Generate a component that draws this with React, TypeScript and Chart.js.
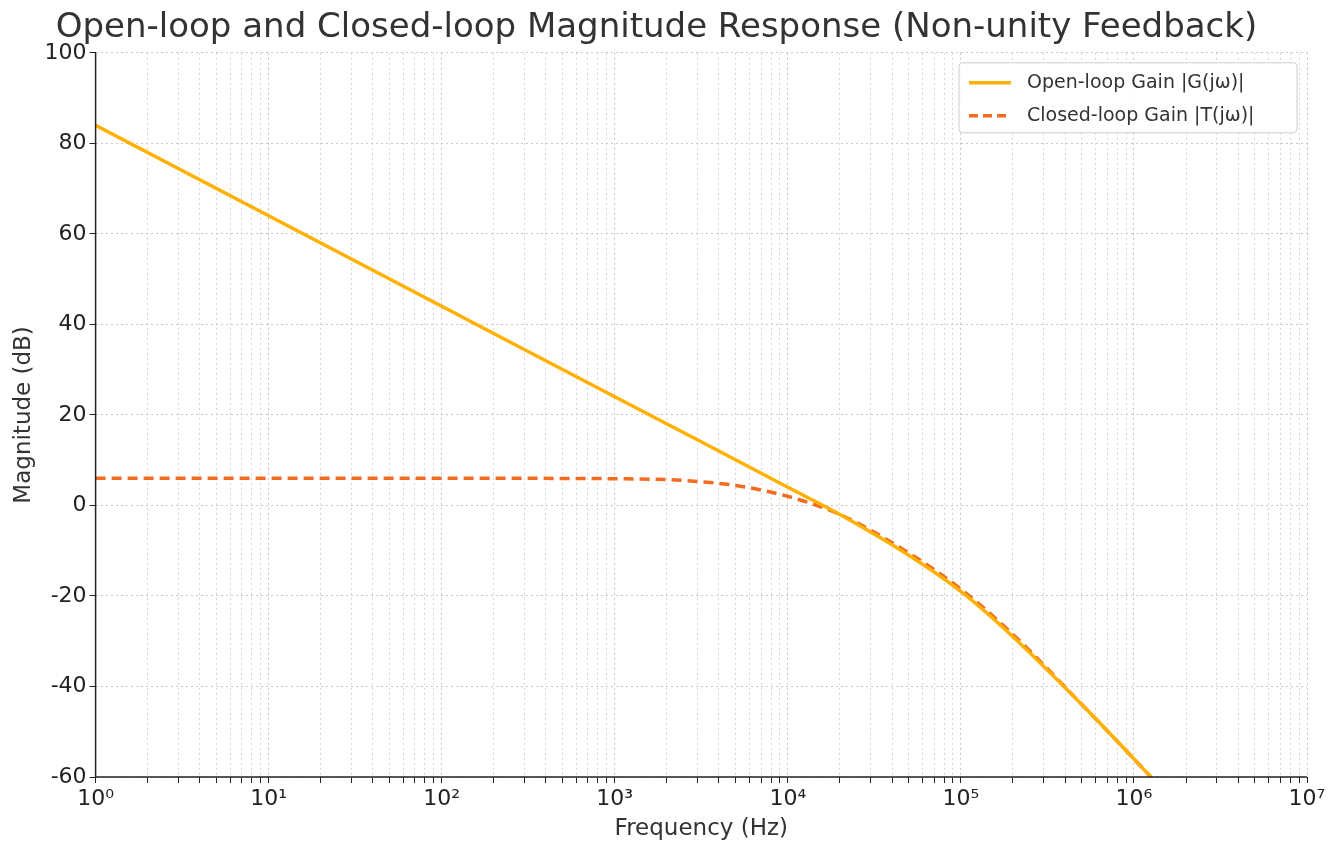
import React, { useEffect, useRef } from "react";
import { Chart, registerables } from "chart.js";
Chart.register(...registerables);

const freqOpen = [1, 10, 100, 1000, 3000, 10000, 20000, 50000, 100000, 200000, 500000, 1000000, 1400000];
const gainOpen = [84, 64, 44, 24, 14.5, 4, -2, -11, -19, -29, -44, -56, -62];
const freqClosed = [1, 10, 100, 1000, 2000, 3000, 5000, 10000, 20000, 50000, 100000, 200000, 500000, 1000000, 1400000];
const gainClosed = [6, 6, 6, 5.9, 5.7, 5.3, 4.4, 2, -2, -10.5, -18.5, -28.5, -44, -56, -62];
const sup = ["⁰", "¹", "²", "³", "⁴", "⁵", "⁶", "⁷"];
const yTicks = [-60, -40, -20, 0, 20, 40, 60, 80, 100];

const legendPlugin = {
  id: "boxLegend",
  afterDraw(chart: any) {
    const { ctx, chartArea } = chart;
    ctx.save();
    ctx.strokeStyle = "#222";
    ctx.lineWidth = 1.5;
    ctx.beginPath();
    ctx.moveTo(chartArea.left, chartArea.top);
    ctx.lineTo(chartArea.left, chartArea.bottom);
    ctx.lineTo(chartArea.right, chartArea.bottom);
    ctx.stroke();
    const w = 338, h = 70;
    const x = chartArea.right - w - 10, y = chartArea.top + 10;
    ctx.fillStyle = "rgba(255,255,255,0.85)";
    ctx.strokeStyle = "#cccccc";
    ctx.lineWidth = 1;
    ctx.beginPath();
    ctx.roundRect(x, y, w, h, 4);
    ctx.fill();
    ctx.stroke();
    const items = [
      { label: "Open-loop Gain |G(jω)|", color: "#FFB000", dash: [] as number[] },
      { label: "Closed-loop Gain |T(jω)|", color: "#F26B21", dash: [9, 5] },
    ];
    ctx.font = "19px 'DejaVu Sans'";
    ctx.textBaseline = "middle";
    items.forEach((it, i) => {
      const yy = y + 20 + i * 33;
      ctx.strokeStyle = it.color;
      ctx.lineWidth = 3.5;
      ctx.setLineDash(it.dash);
      ctx.beginPath();
      ctx.moveTo(x + 10, yy);
      ctx.lineTo(x + 52, yy);
      ctx.stroke();
      ctx.setLineDash([]);
      ctx.fillStyle = "#333";
      ctx.fillText(it.label, x + 68, yy);
    });
    ctx.restore();
  },
};

export default function App() {
  const ref = useRef<HTMLCanvasElement>(null);
  useEffect(() => {
    const chart = new Chart(ref.current!, {
      type: "line",
      data: {
        datasets: [
          {
            data: freqOpen.map((f, i) => ({ x: f, y: gainOpen[i] })),
            borderColor: "#FFB000",
            borderWidth: 3.5,
            pointRadius: 0,
            cubicInterpolationMode: "monotone",
          },
          {
            data: freqClosed.map((f, i) => ({ x: f, y: gainClosed[i] })),
            borderColor: "#F26B21",
            borderWidth: 3.5,
            borderDash: [10, 6],
            pointRadius: 0,
            cubicInterpolationMode: "monotone",
          },
        ],
      },
      options: {
        animation: false,
        responsive: false,
        layout: { padding: { right: 28, top: 0, left: 6, bottom: 4 } },
        plugins: {
          legend: { display: false },
          tooltip: { enabled: false },
          title: {
            display: true,
            text: "Open-loop and Closed-loop Magnitude Response (Non-unity Feedback)",
            color: "#333",
            font: { size: 34, family: "DejaVu Sans", weight: "normal" },
            padding: { top: 8, bottom: 4 },
          },
        },
        scales: {
          x: {
            type: "logarithmic",
            min: 1,
            max: 1e7,
            afterBuildTicks(axis: any) {
              const t: any[] = [];
              for (let e = 0; e < 7; e++)
                for (let m = 1; m < 10; m++) t.push({ value: m * Math.pow(10, e) });
              t.push({ value: 1e7 });
              axis.ticks = t;
            },
            ticks: {
              autoSkip: false,
              maxRotation: 0,
              color: "#222",
              font: { size: 22, family: "DejaVu Sans" },
              callback: (v: any) => {
                const e = Math.log10(v);
                return Math.abs(e - Math.round(e)) < 1e-9 ? "10" + sup[Math.round(e)] : "";
              },
            },
            grid: {
              color: (c: any) => {
                const e = Math.log10(c.tick?.value ?? 1);
                return Math.abs(e - Math.round(e)) < 1e-9 ? "#c4c4c4" : "#d4d4d4";
              },
              tickColor: "#222",
              tickLength: 6,
            },
            border: { display: false, dash: [2, 3] },
            title: { display: true, text: "Frequency (Hz)", color: "#333", font: { size: 23, family: "DejaVu Sans" }, padding: { top: 0 } },
          },
          y: {
            min: -60,
            max: 100,
            afterBuildTicks(axis: any) {
              axis.ticks = yTicks.map((v) => ({ value: v }));
            },
            ticks: { color: "#222", font: { size: 22, family: "DejaVu Sans" } },
            grid: { color: "#c8c8c8", tickColor: "#222", tickLength: 6 },
            border: { display: false, dash: [2, 3] },
            title: { display: true, text: "Magnitude (dB)", color: "#333", font: { size: 23, family: "DejaVu Sans" }, padding: { bottom: 4 } },
          },
        },
      },
      plugins: [legendPlugin],
    } as any);
    return () => chart.destroy();
  }, []);
  return (
    <div style={{ position: "fixed", left: 0, top: 0, background: "#fff" }}>
      <canvas ref={ref} width={1335} height={851} />
    </div>
  );
}
